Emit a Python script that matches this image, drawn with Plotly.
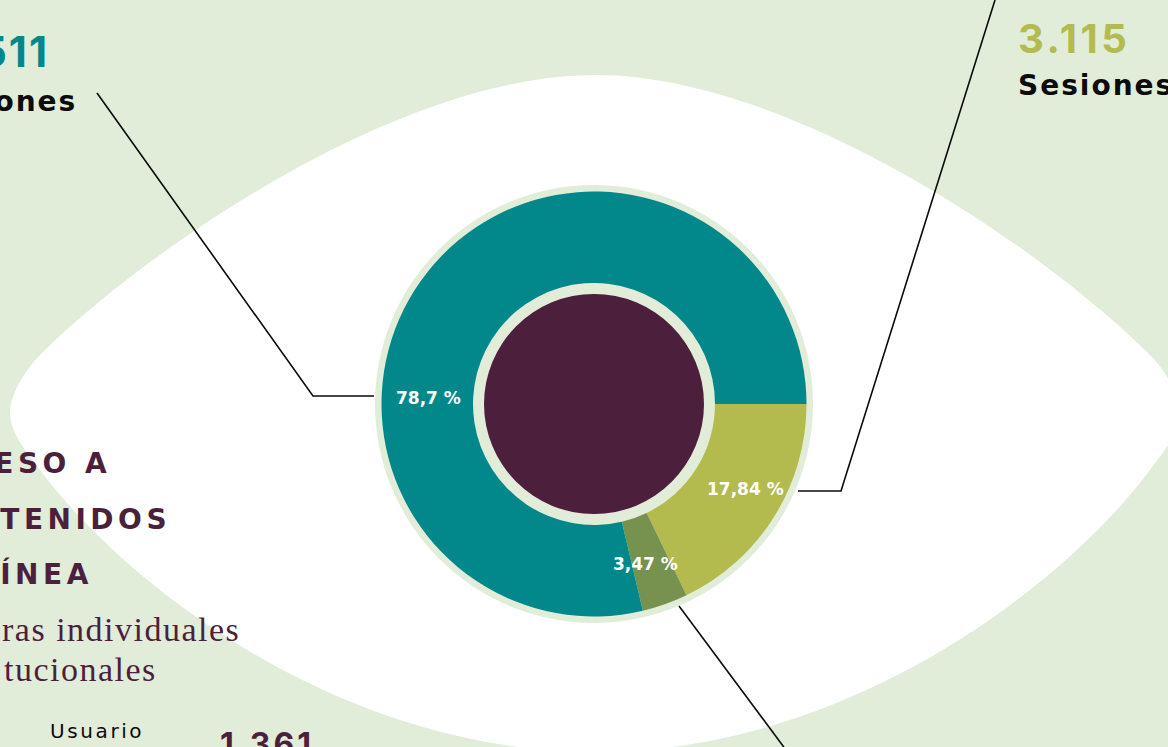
import plotly.graph_objects as go

W, H = 1168, 747

# Share of online sessions (percent), running clockwise from 3 o'clock
segments = ["Segmento 1", "Segmento 2", "Segmento 3"]
share_pct = [17.84, 3.47, 78.7]
slice_colors = ["#b3bb4e", "#76924e", "#02888a"]

# Figures quoted in the callouts
left_sessions = "511"
right_sessions = "3.115"
user_count = "1.361"

BG = "#e1ecd9"
PURPLE = "#4c1f3c"
INK = "#0b0b0b"

# Chart geometry (pixels)
CX, CY = 594, 404
R_OUTER_RING = 219
R_DONUT = 212.5
R_HOLE = 121
R_CORE = 110


def mirror(pts, axis=595):
    return [(2 * axis - x, y) for x, y in pts]


def fmt(p):
    return f"{p[0]:.1f},{p[1]:.1f}"


# Almond-shaped "eye" backdrop built from cubic curves
top_left = [(10, 413), (10, 395), (25, 370), (40, 355), (140, 255), (395, 75), (595, 75)]
bot_left = [(10, 413), (10, 432), (25, 450), (40, 470), (130, 590), (345, 752), (595, 752)]
top_right = list(reversed(mirror(top_left)))
bot_right = mirror(bot_left)


def curve(pts, start=True):
    s = f"M{fmt(pts[0])}" if start else ""
    for i in range(1, len(pts), 3):
        s += f" C{fmt(pts[i])} {fmt(pts[i+1])} {fmt(pts[i+2])}"
    return s


eye_path = (curve(top_left) + curve(top_right, start=False)
            + curve(bot_right, start=False)
            + curve(list(reversed(bot_left)), start=False) + " Z")

fig = go.Figure()

# keeps the pixel-scaled cartesian axes alive for the shapes
fig.add_trace(go.Scatter(x=[0, W], y=[0, H], mode="markers",
                         marker=dict(opacity=0), hoverinfo="skip", showlegend=False))

fig.add_trace(go.Pie(
    labels=segments,
    values=share_pct,
    sort=False,
    direction="clockwise",
    rotation=90,
    hole=R_HOLE / R_DONUT,
    marker=dict(colors=slice_colors, line=dict(width=0)),
    textinfo="none",
    hoverinfo="label+percent",
    showlegend=False,
    domain=dict(x=[(CX - R_DONUT) / W, (CX + R_DONUT) / W],
                y=[(H - CY - R_DONUT) / H, (H - CY + R_DONUT) / H]),
))

shapes = [
    dict(type="path", path=eye_path, fillcolor="white", line=dict(width=0)),
    dict(type="circle", x0=CX - R_OUTER_RING, x1=CX + R_OUTER_RING,
         y0=CY - R_OUTER_RING, y1=CY + R_OUTER_RING, fillcolor=BG, line=dict(width=0)),
    dict(type="circle", x0=CX - R_CORE, x1=CX + R_CORE,
         y0=CY - R_CORE, y1=CY + R_CORE, fillcolor=PURPLE, line=dict(width=0)),
    # leader lines
    dict(type="path", path="M97,93 L313,396 L374,396", line=dict(color=INK, width=1.6)),
    dict(type="path", path="M995,0 L841,491 L798,491", line=dict(color=INK, width=1.6)),
    dict(type="path", path="M679,606 L786,750", line=dict(color=INK, width=1.6)),
]
for s in shapes:
    s.update(xref="x", yref="y", layer="below")

SANS = "DejaVu Sans"
NUM = "Inter"
SERIF = "Liberation Serif"


def note(text, x, y, size, color, family, xanchor, weight=400, ls=None):
    """Text placed in pixel coordinates (top-left origin) on the paper."""
    if ls:
        text = f'<span style="letter-spacing:{ls}px">{text}</span>'
    return dict(text=text, x=x / W, y=1 - y / H, xref="paper", yref="paper",
                showarrow=False, xanchor=xanchor, yanchor="middle",
                align=xanchor if xanchor != "center" else "center",
                font=dict(family=family, size=size, color=color, weight=weight))


annotations = []

# percentage labels inside the ring, from the same values as the slices
label_pos = [(745, 489), (645, 564), (428, 398)]
for v, (lx, ly) in zip(share_pct, label_pos):
    annotations.append(note(f"{str(v).replace('.', ',')} %", lx, ly, 17, "white", SANS,
                            "center", weight=700))

# callouts
annotations += [
    note(left_sessions, 46.7 + 4, 51.7, 42, "#02888a", NUM, "right", weight=700, ls=2),
    note("Sesiones", 75 + 4, 101.5, 28, INK, SANS, "right", weight=700, ls=2),
    note(right_sessions, 1016, 38.7, 40, "#b3bb4e", NUM, "left", weight=700, ls=3.5),
    note("Sesiones", 1016, 85.7, 28, INK, SANS, "left", weight=700, ls=2),
    note("ACCESO A", 106 + 6.5, 464, 28, PURPLE, SANS, "right", weight=700, ls=4.5),
    note("CONTENIDOS", 166.7 + 6.5, 519, 28, PURPLE, SANS, "right", weight=700, ls=4.5),
    note("EN LÍNEA", 88.3 + 6.5, 574, 28, PURPLE, SANS, "right", weight=700, ls=4.5),
    note("ras individuales", 238.3 + 3.5, 629, 34, PURPLE, SERIF, "right", ls=1.5),
    note("tucionales", 155 + 3.5, 669, 34, PURPLE, SERIF, "right", ls=1.5),
    note("Usuario", 48, 731, 20, INK, SANS, "left", ls=2.6),
    note(user_count, 218, 744.5, 32, PURPLE, NUM, "left", weight=700, ls=3),
]

fig.update_layout(
    width=W, height=H,
    margin=dict(l=0, r=0, t=0, b=0),
    paper_bgcolor=BG, plot_bgcolor=BG,
    xaxis=dict(range=[0, W], visible=False, fixedrange=True),
    yaxis=dict(range=[H, 0], visible=False, fixedrange=True),
    shapes=shapes,
    annotations=annotations,
)

fig.write_html("out.html", include_plotlyjs=True, config={"displayModeBar": False})
